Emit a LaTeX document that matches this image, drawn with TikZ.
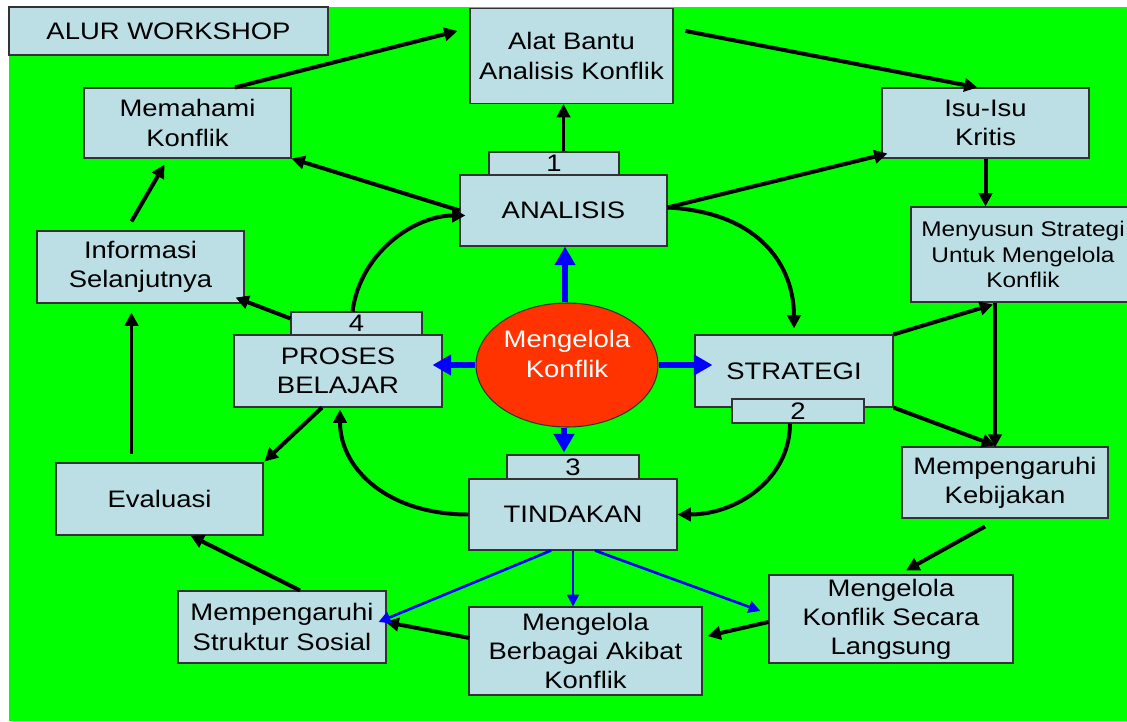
\documentclass[tikz,border=0pt]{standalone}
\usepackage{fontspec}
\setmainfont{Liberation Sans}[FakeStretch=1.15]
\usetikzlibrary{shapes.geometric,arrows.meta,calc}
\definecolor{boxblue}{RGB}{188,223,229}
\definecolor{bggreen}{RGB}{0,255,0}
\definecolor{ovalred}{RGB}{255,51,0}

\begin{document}
\begin{tikzpicture}[x=0.265mm, y=-0.265mm,
  every node/.style={font=\fontsize{18}{22}\selectfont},
  box/.style n args={2}{draw=black!80, fill=boxblue, line width=0.8pt, align=center,
    inner sep=0pt, minimum width=#1*0.265mm, minimum height=#2*0.265mm},
  arr/.style={line width=3pt, -{Triangle[length=10pt,width=10pt]}},
  bluefat/.style={blue, line width=5pt, -{Triangle[length=14pt,width=15pt]}},
  bluethin/.style={blue, line width=2pt, -{Triangle[length=9pt,width=9pt]}}]
  \clip (0,0) rectangle (1127,721);
  \fill[bggreen] (9,7) rectangle (1127,721);

  % kotak-kotak luar
  \node[box={319}{48}] (alur) at (168.5,31) {ALUR WORKSHOP};
  \node[box={203}{95}] (alat) at (571.5,56) {Alat Bantu\\Analisis Konflik};
  \node[box={207}{70}] (memahami) at (187.5,123) {Memahami\\Konflik};
  \node[box={207}{70}] (isu) at (985.5,123) {Isu-Isu\\Kritis};
  \node[box={224}{95}, font=\fontsize{16}{19.5}\selectfont] (menyusun) at (1023,254.5)
    {Menyusun Strategi\\Untuk Mengelola\\Konflik};
  \node[box={207}{72}] (informasi) at (140.5,267) {Informasi\\Selanjutnya};
  \node[box={206}{71}] (kebijakan) at (1005,482.5) {Mempengaruhi\\Kebijakan};
  \node[box={207}{72}] (evaluasi) at (159.5,499) {Evaluasi};
  \node[box={244}{88}] (langsung) at (891,619) {Mengelola\\Konflik Secara\\Langsung};
  \node[box={208}{72}] (struktur) at (282,627) {Mempengaruhi\\Struktur Sosial};
  \node[box={233}{88}] (akibat) at (585.5,651) {Mengelola\\Berbagai Akibat\\Konflik};

  % siklus tengah
  \node[box={130}{23}] (one) at (554,163.5) {1};
  \node[box={207}{71}] (analisis) at (563.5,210.5) {ANALISIS};
  \node[box={131}{23}] (four) at (356.5,323.5) {4};
  \node[box={208}{72}] (proses) at (338,371) {PROSES\\BELAJAR};
  \node[box={198}{72}] (strategi) at (794,371) {STRATEGI};
  \node[box={132}{24}] (two) at (798,411) {2};
  \node[box={132}{24}] (three) at (573,467) {3};
  \node[box={208}{71}] (tindakan) at (573,514.5) {TINDAKAN};
  \node[ellipse, draw=black!80, line width=0.8pt, fill=ovalred, inner sep=0pt,
    minimum width=182*0.265mm, minimum height=124*0.265mm] (ell) at (567,365) {};
  \node[text=white, align=center] (ellt) at (567,354) {Mengelola\\Konflik};

  % panah hitam
  \draw[arr] ($(memahami.north)+(47.5,0)$) -- ($(alat.north west)+(-12,23)$);
  \draw[arr] ($(alat.north east)+(12,23)$) -- ($(isu.north)+(-8,0)$);
  \draw[arr] (analisis.north |- one.north) -- (analisis.north |- alat.south);
  \draw[arr] (analisis.west) -- (memahami.south east);
  \draw[arr] ($(analisis.east)+(0,-3)$) -- ($(isu.south west)+(6,-5)$);
  \draw[arr] (isu.south) -- (isu.south |- menyusun.north);
  \draw[arr] ($(analisis.east)+(0,-3)$) .. controls +(95,5) and +(0,-60) .. ($(strategi.north)+(0,-6)$);
  \draw[arr] ($(menyusun.south)+(-28,0)$) -- ($(menyusun.south)+(-28,145)$);
  \draw[arr] (strategi.north east) -- ($(menyusun.south)+(-30,2)$);
  \draw[arr] (strategi.south east) -- ($(kebijakan.north)+(-10,-1)$);
  \draw[arr] ($(two.south)+(-8,0)$) .. controls +(0,55) and +(60,0) .. (tindakan.east);
  \draw[arr] ($(kebijakan.south)+(-20,8)$) -- ($(langsung.north)+(15,-4)$);
  \draw[arr] ($(langsung.west)+(0,3)$) -- ($(akibat.east)+(5,-15)$);
  \draw[arr] ($(akibat.west)+(1,-13)$) -- ($(struktur.east)+(-1,-5)$);
  \draw[arr] ($(struktur.north)+(18,0)$) -- ($(evaluasi.south)+(31,0)$);
  \draw[arr] ($(evaluasi.north)+(-28,-8)$) -- ($(informasi.south)+(-9,9)$);
  \draw[arr] ($(informasi.north)+(-9,-9)$) -- ($(memahami.south)+(-23,6)$);
  \draw[arr] ($(four.west)+(0,-5)$) -- ($(informasi.south east)+(-9,-6)$);
  \draw[arr] (tindakan.west) .. controls +(-80,0) and +(0,60) .. ($(proses.south)+(2,2)$);
  \draw[arr] ($(four.north)+(-4,0)$) .. controls +(8,-60) and +(-50,0) .. ($(analisis.west)+(6,5)$);
  \draw[arr] ($(proses.south)+(-16,0)$) -- ($(evaluasi.north east)+(1,-1)$);

  % panah biru
  \draw[bluefat] ($(ell.north)+(-2,0)$) -- ($(ell.north |- analisis.south)+(-2,0)$);
  \draw[bluefat] (ell.west) -- ($(ell.west -| proses.east)+(-10,0)$);
  \draw[bluefat] (ell.east) -- ($(ell.east -| strategi.west)+(18,0)$);
  \draw[bluefat] ($(ell.south)+(-3,0)$) -- ($(ell.south |- three.north)+(-3,-2)$);
  \draw[bluethin] ($(tindakan.south)+(-22,0)$) -- ($(struktur.east)+(-8,-5)$);
  \draw[bluethin] (tindakan.south) -- (tindakan.south |- akibat.north);
  \draw[bluethin] ($(tindakan.south)+(22,0)$) -- ($(langsung.west)+(-8,-8)$);
\end{tikzpicture}
\end{document}
